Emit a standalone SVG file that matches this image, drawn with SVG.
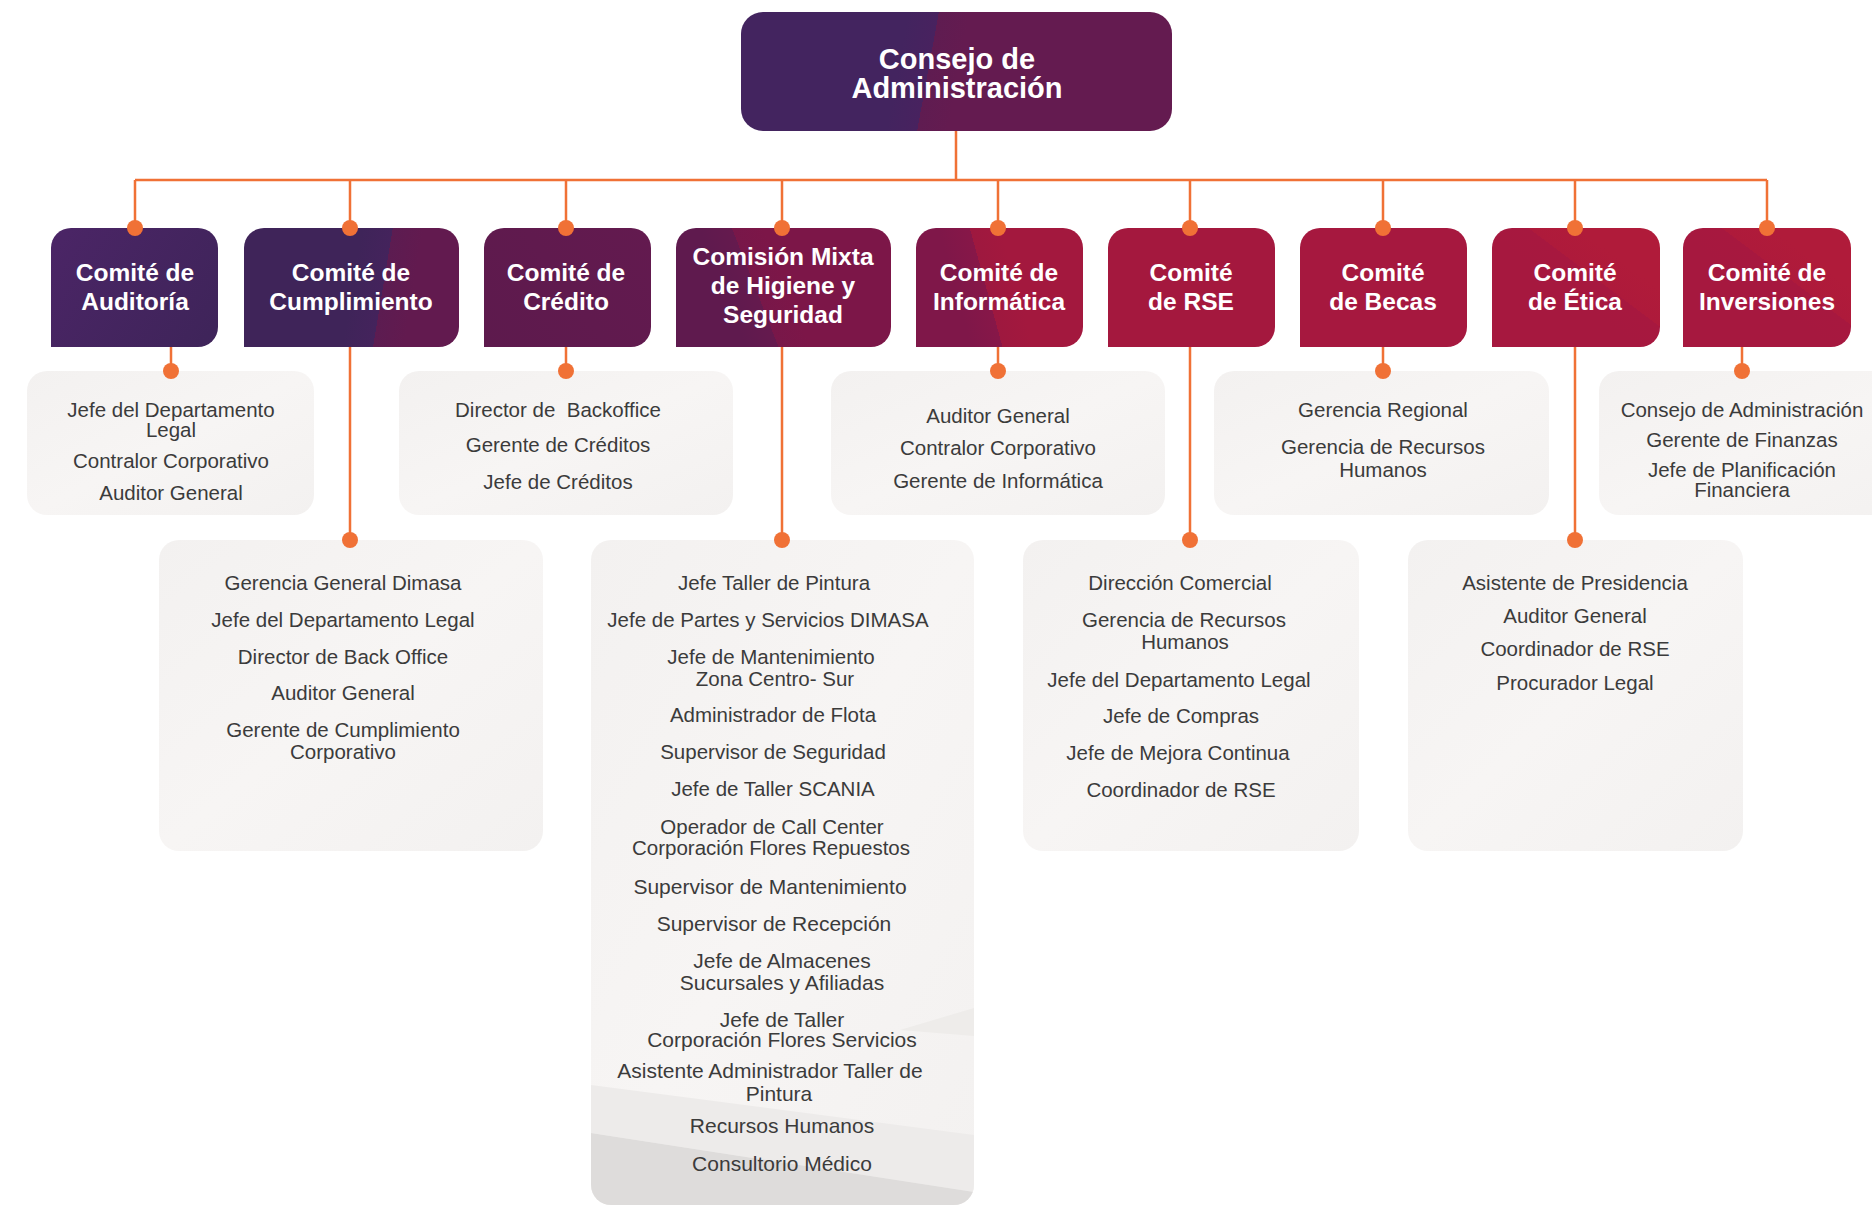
<svg xmlns="http://www.w3.org/2000/svg" width="1872" height="1206" viewBox="0 0 1872 1206">
<style>
.ttl{font-family:"Liberation Sans",Arial,sans-serif;font-weight:bold;fill:#ffffff;text-anchor:middle}
.top{font-size:29px}
.cm{font-size:24.5px}
.li{font-family:"Liberation Sans",Arial,sans-serif;font-size:20.5px;fill:#3b3b3b;text-anchor:middle}
.lw{font-size:21px}
.ln{stroke:#f07136;stroke-width:2.5;fill:none}
.dot{fill:#f07136}
.lb{fill:url(#gList)}
</style>
<defs>
<linearGradient id="gList" x1="0" y1="0" x2="1" y2="1">
<stop offset="0" stop-color="#f3f1f0"/>
<stop offset="0.5" stop-color="#f7f5f4"/>
<stop offset="1" stop-color="#f3f1f0"/>
</linearGradient>
<linearGradient id="gTop" gradientUnits="userSpaceOnUse" x1="898" y1="66" x2="958" y2="77">
<stop offset="0" stop-color="#43245f"/><stop offset="0.5" stop-color="#48225f"/>
<stop offset="0.5" stop-color="#5f1c51"/><stop offset="1" stop-color="#641b50"/>
</linearGradient>
<linearGradient id="gAud" gradientUnits="userSpaceOnUse" x1="51" y1="228" x2="218" y2="347">
<stop offset="0" stop-color="#4b2566"/><stop offset="1" stop-color="#3e2459"/>
</linearGradient>
<linearGradient id="gCum" gradientUnits="userSpaceOnUse" x1="353" y1="282" x2="413" y2="292">
<stop offset="0" stop-color="#3f2459"/><stop offset="0.5" stop-color="#44235c"/>
<stop offset="0.5" stop-color="#5c1c51"/><stop offset="1" stop-color="#621a4f"/>
</linearGradient>
<linearGradient id="gCre" gradientUnits="userSpaceOnUse" x1="484" y1="347" x2="651" y2="228">
<stop offset="0" stop-color="#5d1a4d"/><stop offset="1" stop-color="#631a4f"/>
</linearGradient>
<linearGradient id="gCom" gradientUnits="userSpaceOnUse" x1="727" y1="298" x2="783" y2="276">
<stop offset="0" stop-color="#5f1a4e"/><stop offset="0.5" stop-color="#651a4e"/>
<stop offset="0.5" stop-color="#781749"/><stop offset="1" stop-color="#7c1648"/>
</linearGradient>
<linearGradient id="gInf" gradientUnits="userSpaceOnUse" x1="957" y1="295" x2="1015" y2="279">
<stop offset="0" stop-color="#7f1749"/><stop offset="0.5" stop-color="#871748"/>
<stop offset="0.5" stop-color="#9e183f"/><stop offset="1" stop-color="#a3183e"/>
</linearGradient>
<linearGradient id="gEti" gradientUnits="userSpaceOnUse" x1="1577" y1="302" x2="1613" y2="254">
<stop offset="0" stop-color="#a6183f"/><stop offset="0.5" stop-color="#a7183f"/>
<stop offset="0.5" stop-color="#ae1a3b"/><stop offset="1" stop-color="#b01b3a"/>
</linearGradient>
<linearGradient id="gInv" gradientUnits="userSpaceOnUse" x1="1769" y1="301" x2="1805" y2="253">
<stop offset="0" stop-color="#a6183f"/><stop offset="0.5" stop-color="#a7183f"/>
<stop offset="0.5" stop-color="#ae1a3b"/><stop offset="1" stop-color="#b01b3a"/>
</linearGradient>
<clipPath id="cG"><rect x="591" y="540" width="383" height="665" rx="20"/></clipPath>
</defs>

<rect width="1872" height="1206" fill="#ffffff"/>

<g id="connectors">
<path class="ln" d="M956,131 V180 M135,180 H1767 M135,180 V228 M350,180 V228 M566,180 V228 M782,180 V228 M998,180 V228 M1190,180 V228 M1383,180 V228 M1575,180 V228 M1767,180 V228"/>
<path class="ln" d="M171,347 V371 M566,347 V371 M998,347 V371 M1383,347 V371 M1742,347 V371 M350,347 V540 M782,347 V540 M1190,347 V540 M1575,347 V540"/>
</g>

<g id="consejo">
<rect x="741" y="12" width="431" height="119" rx="22" fill="url(#gTop)"/>
<text class="ttl top" x="957" y="69">Consejo de</text>
<text class="ttl top" x="957" y="98">Administración</text>
</g>

<g id="comite-auditoria">
<path d="M51,248 A20,20 0 0 1 71,228 H198 A20,20 0 0 1 218,248 V327 A20,20 0 0 1 198,347 H51 Z" fill="url(#gAud)"/>
<text class="ttl cm" x="135" y="281">Comité de</text>
<text class="ttl cm" x="135" y="310">Auditoría</text>
</g>
<g id="comite-cumplimiento">
<path d="M244,248 A20,20 0 0 1 264,228 H439 A20,20 0 0 1 459,248 V327 A20,20 0 0 1 439,347 H244 Z" fill="url(#gCum)"/>
<text class="ttl cm" x="351" y="281">Comité de</text>
<text class="ttl cm" x="351" y="310">Cumplimiento</text>
</g>
<g id="comite-credito">
<path d="M484,248 A20,20 0 0 1 504,228 H631 A20,20 0 0 1 651,248 V327 A20,20 0 0 1 631,347 H484 Z" fill="url(#gCre)"/>
<text class="ttl cm" x="566" y="281">Comité de</text>
<text class="ttl cm" x="566" y="310">Crédito</text>
</g>
<g id="comision-mixta">
<path d="M676,248 A20,20 0 0 1 696,228 H871 A20,20 0 0 1 891,248 V327 A20,20 0 0 1 871,347 H676 Z" fill="url(#gCom)"/>
<text class="ttl cm" x="783" y="265">Comisión Mixta</text>
<text class="ttl cm" x="783" y="294">de Higiene y</text>
<text class="ttl cm" x="783" y="323">Seguridad</text>
</g>
<g id="comite-informatica">
<path d="M916,248 A20,20 0 0 1 936,228 H1063 A20,20 0 0 1 1083,248 V327 A20,20 0 0 1 1063,347 H916 Z" fill="url(#gInf)"/>
<text class="ttl cm" x="999" y="281">Comité de</text>
<text class="ttl cm" x="999" y="310">Informática</text>
</g>
<g id="comite-rse">
<path d="M1108,248 A20,20 0 0 1 1128,228 H1255 A20,20 0 0 1 1275,248 V327 A20,20 0 0 1 1255,347 H1108 Z" fill="#a4183e"/>
<text class="ttl cm" x="1191" y="281">Comité</text>
<text class="ttl cm" x="1191" y="310">de RSE</text>
</g>
<g id="comite-becas">
<path d="M1300,248 A20,20 0 0 1 1320,228 H1447 A20,20 0 0 1 1467,248 V327 A20,20 0 0 1 1447,347 H1300 Z" fill="#a6183f"/>
<text class="ttl cm" x="1383" y="281">Comité</text>
<text class="ttl cm" x="1383" y="310">de Becas</text>
</g>
<g id="comite-etica">
<path d="M1492,248 A20,20 0 0 1 1512,228 H1640 A20,20 0 0 1 1660,248 V327 A20,20 0 0 1 1640,347 H1492 Z" fill="url(#gEti)"/>
<text class="ttl cm" x="1575" y="281">Comité</text>
<text class="ttl cm" x="1575" y="310">de Ética</text>
</g>
<g id="comite-inversiones">
<path d="M1683,248 A20,20 0 0 1 1703,228 H1831 A20,20 0 0 1 1851,248 V327 A20,20 0 0 1 1831,347 H1683 Z" fill="url(#gInv)"/>
<text class="ttl cm" x="1767" y="281">Comité de</text>
<text class="ttl cm" x="1767" y="310">Inversiones</text>
</g>

<g id="lista-auditoria">
<rect class="lb" x="27" y="371" width="287" height="144" rx="20"/>
<text class="li" x="171" y="417">Jefe del Departamento</text>
<text class="li" x="171" y="437">Legal</text>
<text class="li" x="171" y="468">Contralor Corporativo</text>
<text class="li" x="171" y="500">Auditor General</text>
</g>
<g id="lista-credito">
<rect class="lb" x="399" y="371" width="334" height="144" rx="20"/>
<text class="li" x="558" y="417" xml:space="preserve">Director de  Backoffice</text>
<text class="li" x="558" y="452">Gerente de Créditos</text>
<text class="li" x="558" y="489">Jefe de Créditos</text>
</g>
<g id="lista-informatica">
<rect class="lb" x="831" y="371" width="334" height="144" rx="20"/>
<text class="li" x="998" y="423">Auditor General</text>
<text class="li" x="998" y="455">Contralor Corporativo</text>
<text class="li" x="998" y="488">Gerente de Informática</text>
</g>
<g id="lista-becas">
<rect class="lb" x="1214" y="371" width="335" height="144" rx="20"/>
<text class="li" x="1383" y="417">Gerencia Regional</text>
<text class="li" x="1383" y="454">Gerencia de Recursos</text>
<text class="li" x="1383" y="477">Humanos</text>
</g>
<g id="lista-inversiones">
<rect class="lb" x="1599" y="371" width="340" height="144" rx="20"/>
<text class="li" x="1742" y="417">Consejo de Administración</text>
<text class="li" x="1742" y="447">Gerente de Finanzas</text>
<text class="li" x="1742" y="477">Jefe de Planificación</text>
<text class="li" x="1742" y="497">Financiera</text>
</g>
<g id="lista-cumplimiento">
<rect class="lb" x="159" y="540" width="384" height="311" rx="20"/>
<text class="li" x="343" y="590">Gerencia General Dimasa</text>
<text class="li" x="343" y="627">Jefe del Departamento Legal</text>
<text class="li" x="343" y="664">Director de Back Office</text>
<text class="li" x="343" y="700">Auditor General</text>
<text class="li" x="343" y="737">Gerente de Cumplimiento</text>
<text class="li" x="343" y="759">Corporativo</text>
</g>
<g id="lista-comision">
<rect class="lb" x="591" y="540" width="383" height="665" rx="20"/>
<g clip-path="url(#cG)">
<polygon points="900,1030 974,1008 974,1036" fill="#eeecea"/>
<polygon points="591,1085 974,1135 974,1192 591,1133" fill="#edebea"/>
<polygon points="591,1133 974,1192 974,1206 591,1206" fill="#dedcdb"/>
</g>
<text class="li" x="774" y="590">Jefe Taller de Pintura</text>
<text class="li" x="768" y="627">Jefe de Partes y Servicios DIMASA</text>
<text class="li" x="771" y="664">Jefe de Mantenimiento</text>
<text class="li" x="775" y="686">Zona Centro- Sur</text>
<text class="li" x="773" y="722">Administrador de Flota</text>
<text class="li" x="773" y="759">Supervisor de Seguridad</text>
<text class="li" x="773" y="796">Jefe de Taller SCANIA</text>
<text class="li" x="772" y="834">Operador de Call Center</text>
<text class="li" x="771" y="855">Corporación Flores Repuestos</text>
<text class="li lw" x="770" y="894">Supervisor de Mantenimiento</text>
<text class="li lw" x="774" y="931">Supervisor de Recepción</text>
<text class="li lw" x="782" y="968">Jefe de Almacenes</text>
<text class="li lw" x="782" y="990">Sucursales y Afiliadas</text>
<text class="li lw" x="782" y="1027">Jefe de Taller</text>
<text class="li lw" x="782" y="1047">Corporación Flores Servicios</text>
<text class="li lw" x="770" y="1078">Asistente Administrador Taller de</text>
<text class="li lw" x="779" y="1101">Pintura</text>
<text class="li lw" x="782" y="1133">Recursos Humanos</text>
<text class="li lw" x="782" y="1171">Consultorio Médico</text>
</g>
<g id="lista-rse">
<rect class="lb" x="1023" y="540" width="336" height="311" rx="20"/>
<text class="li" x="1180" y="590">Dirección Comercial</text>
<text class="li" x="1184" y="627">Gerencia de Recursos</text>
<text class="li" x="1185" y="649">Humanos</text>
<text class="li" x="1179" y="687">Jefe del Departamento Legal</text>
<text class="li" x="1181" y="723">Jefe de Compras</text>
<text class="li" x="1178" y="760">Jefe de Mejora Continua</text>
<text class="li" x="1181" y="797">Coordinador de RSE</text>
</g>
<g id="lista-etica">
<rect class="lb" x="1408" y="540" width="335" height="311" rx="20"/>
<text class="li" x="1575" y="590">Asistente de Presidencia</text>
<text class="li" x="1575" y="623">Auditor General</text>
<text class="li" x="1575" y="656">Coordinador de RSE</text>
<text class="li" x="1575" y="690">Procurador Legal</text>
</g>

<g id="dots">
<circle class="dot" cx="135" cy="228" r="8"/>
<circle class="dot" cx="350" cy="228" r="8"/>
<circle class="dot" cx="566" cy="228" r="8"/>
<circle class="dot" cx="782" cy="228" r="8"/>
<circle class="dot" cx="998" cy="228" r="8"/>
<circle class="dot" cx="1190" cy="228" r="8"/>
<circle class="dot" cx="1383" cy="228" r="8"/>
<circle class="dot" cx="1575" cy="228" r="8"/>
<circle class="dot" cx="1767" cy="228" r="8"/>
<circle class="dot" cx="171" cy="371" r="8"/>
<circle class="dot" cx="566" cy="371" r="8"/>
<circle class="dot" cx="998" cy="371" r="8"/>
<circle class="dot" cx="1383" cy="371" r="8"/>
<circle class="dot" cx="1742" cy="371" r="8"/>
<circle class="dot" cx="350" cy="540" r="8"/>
<circle class="dot" cx="782" cy="540" r="8"/>
<circle class="dot" cx="1190" cy="540" r="8"/>
<circle class="dot" cx="1575" cy="540" r="8"/>
</g>
</svg>
